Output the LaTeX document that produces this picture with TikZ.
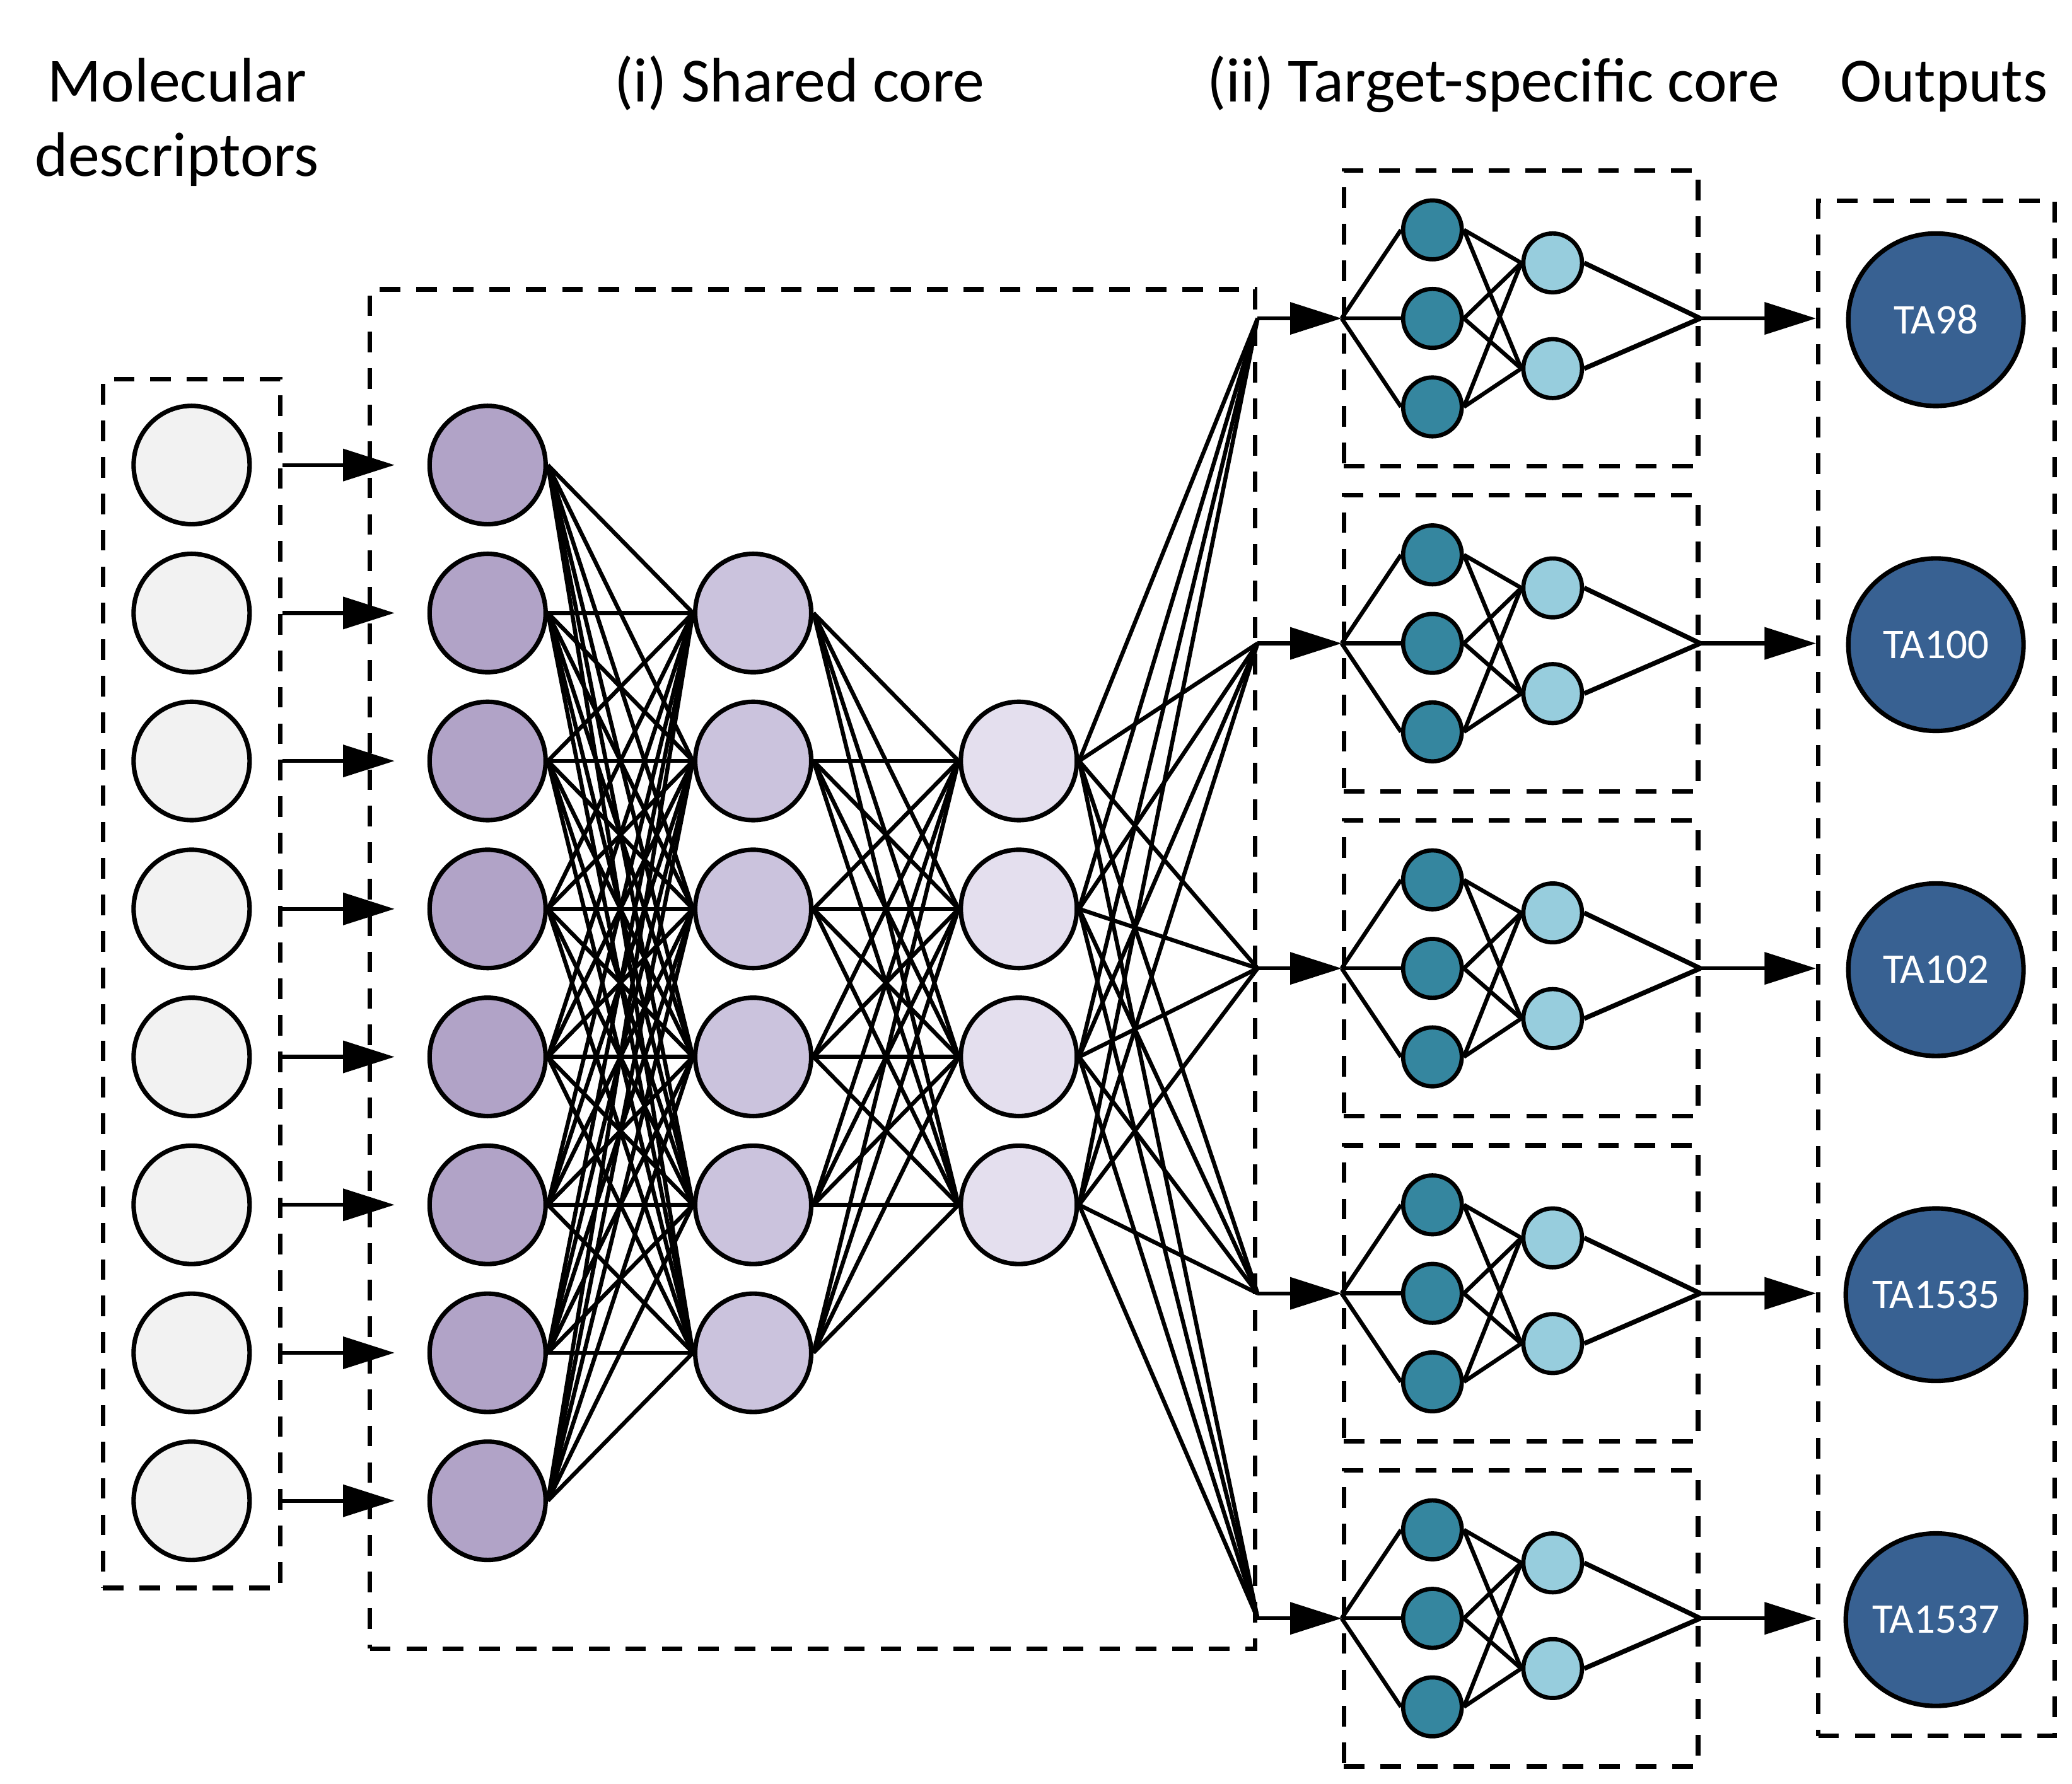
\documentclass[tikz,border=0pt]{standalone}
\usepackage{fontspec}
\setmainfont{Carlito}
\usetikzlibrary{shapes.geometric,arrows.meta}
\definecolor{inputc}{HTML}{F2F2F2}
\definecolor{layA}{HTML}{B1A3C7}
\definecolor{layB}{HTML}{CBC3DD}
\definecolor{layC}{HTML}{E4DFEE}
\definecolor{tealc}{HTML}{35869F}
\definecolor{lbluec}{HTML}{97CDDD}
\definecolor{outc}{HTML}{386192}
\begin{document}
\begin{tikzpicture}[x=0.5pt,y=-0.5pt,
  neuron/.style={ellipse,draw=black,line width=1.7pt,inner sep=0pt,minimum width=43.9pt,minimum height=44.8pt},
  small/.style={ellipse,draw=black,line width=1.6pt,inner sep=0pt,minimum width=22.2pt,minimum height=22.3pt},
  outn/.style={ellipse,draw=black,line width=1.7pt,inner sep=0pt,minimum width=66.3pt,minimum height=65.3pt,fill=outc,text=white,font=\fontsize{16}{19}\selectfont},
  dbox/.style={draw=black,line width=1.7pt,dash pattern=on 7.8pt off 6pt,inner sep=0pt,rectangle},
  edge/.style={line width=1.55pt},
  arr/.style={line width=1.5pt,-{Triangle[length=19.5pt,width=12pt]}},
  title/.style={font=\fontsize{23.8}{28.2}\selectfont,inner sep=0pt}
]
\useasboundingbox (0,0) rectangle (1568,1350);
% titles
\node[title,anchor=base,align=center] (tmol) at (134,133.6) {Molecular\\descriptors};
\node[title,anchor=base] (tsh) at (605,77) {(i) Shared core};
\node[title,anchor=base] (tts) at (1130,77) {(ii) Target-specific core};
\node[title,anchor=base] (tout) at (1471,77) {Outputs};
% boxes
\node[dbox,minimum width=67pt,minimum height=457.5pt] (inbox) at (145,744.5) {};
\node[dbox,minimum width=335pt,minimum height=514.5pt] (sbox) at (615,733.5) {};
\node[dbox,minimum width=89.5pt,minimum height=581pt] (obox) at (1465.5,733) {};
% input and first layer
\foreach \i in {0,...,7} {
  \pgfmathsetmacro\yy{352+112*\i}
  \node[neuron,fill=inputc] (in\i) at (145,\yy) {};
  \node[neuron,fill=layA] (a\i) at (369,\yy) {};
}
\foreach \j in {0,...,5} {
  \pgfmathsetmacro\yy{464+112*\j}
  \node[neuron,fill=layB] (b\j) at (570,\yy) {};
}
\foreach \k in {0,...,3} {
  \pgfmathsetmacro\yy{576+112*\k}
  \node[neuron,fill=layC] (c\k) at (771,\yy) {};
}
\foreach \i in {0,...,7} {
  \draw[arr] (inbox.east |- in\i) -- ([xshift=-12.4pt]a\i.west);
  \foreach \j in {0,...,5} \draw[edge] (a\i.east) -- (b\j.west);
}
\foreach \j in {0,...,5} {
  \foreach \k in {0,...,3} \draw[edge] (b\j.east) -- (c\k.west);
}
% target-specific blocks
\foreach \t/\lab in {0/TA98,1/TA100,2/TA102,3/TA1535,4/TA1537} {
  \pgfmathsetmacro\cc{241+246*\t}
  \node[dbox,minimum width=134pt,minimum height=112pt] (tb\t) at (1151,\cc) {};
  \coordinate (f\t) at (sbox.east |- tb\t.west);
  \node[small,fill=tealc] (p\t0) at (1084,\cc-67) {};
  \node[small,fill=tealc] (p\t1) at (1084,\cc) {};
  \node[small,fill=tealc] (p\t2) at (1084,\cc+67) {};
  \node[small,fill=lbluec] (q\t0) at (1175,\cc-42) {};
  \node[small,fill=lbluec] (q\t1) at (1175,\cc+38) {};
  \node[outn] (o\t) at (1465,\cc+1) {\lab};
  \foreach \k in {0,...,3} \draw[edge] (c\k.east) -- (f\t);
  \draw[arr] (f\t) -- (tb\t.west);
  \foreach \m in {0,1,2} {
    \draw[edge] (tb\t.west) -- (p\t\m.west);
    \draw[edge] (p\t\m.east) -- (q\t0.west);
    \draw[edge] (p\t\m.east) -- (q\t1.west);
  }
  \draw[edge,line width=1.8pt] (q\t0.east) -- (tb\t.east);
  \draw[edge,line width=1.8pt] (q\t1.east) -- (tb\t.east);
  \draw[arr] (tb\t.east) -- (obox.west |- tb\t.east);
}
\end{tikzpicture}
\end{document}
